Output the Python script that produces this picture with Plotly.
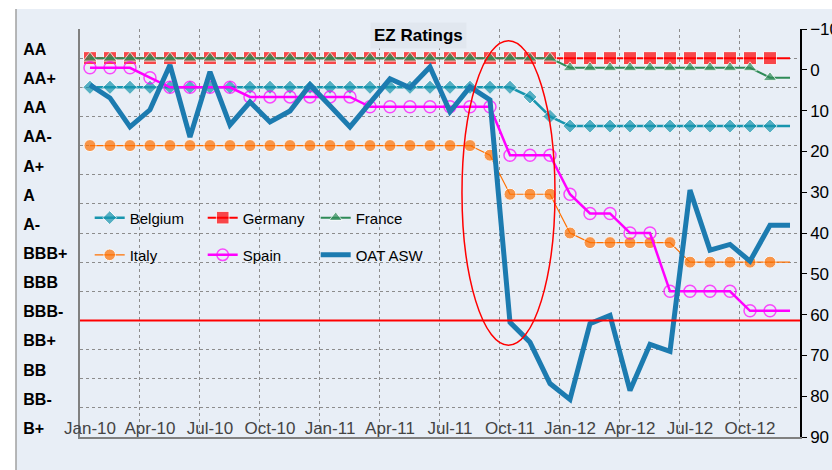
import plotly.graph_objects as go

# months Jan-10 .. Dec-12, plotted by index
months = [f"{m}-{y}" for y in ("10", "11", "12")
          for m in ("Jan", "Feb", "Mar", "Apr", "May", "Jun",
                    "Jul", "Aug", "Sep", "Oct", "Nov", "Dec")]
month_idx = list(range(len(months)))
tick_months = ["Jan-10", "Apr-10", "Jul-10", "Oct-10", "Jan-11", "Apr-11",
               "Jul-11", "Oct-11", "Jan-12", "Apr-12", "Jul-12", "Oct-12"]

# rating scale (average notch across agencies, 1 = AAA)
rating_labels = ["AA", "AA+", "AA", "AA-", "A+", "A", "A-", "BBB+", "BBB",
                 "BBB-", "BB+", "BB", "BB-", "B+"]
rating_notches = [1, 2, 3, 4, 5, 6, 7, 8, 9, 10, 11, 12, 13, 14]
ig_cutoff = 10  # BBB-

belgium = [2, 2, 2, 2, 2, 2, 2, 2, 2, 2, 2, 2, 2, 2, 2, 2, 2, 2, 2, 2, 2, 2,
           2.33, 3, 3.33, 3.33, 3.33, 3.33, 3.33, 3.33, 3.33, 3.33, 3.33, 3.33, 3.33, 3.33]
germany = [1, 1, 1, 1, 1, 1, 1, 1, 1, 1, 1, 1, 1, 1, 1, 1, 1, 1,
           1, 1, 1, 1, 1, 1, 1, 1, 1, 1, 1, 1, 1, 1, 1, 1, 1, 1]
france = [1, 1, 1, 1, 1, 1, 1, 1, 1, 1, 1, 1, 1, 1, 1, 1, 1, 1, 1, 1, 1, 1, 1, 1,
          1.33, 1.33, 1.33, 1.33, 1.33, 1.33, 1.33, 1.33, 1.33, 1.33, 1.67, 1.67]
italy = [4, 4, 4, 4, 4, 4, 4, 4, 4, 4, 4, 4, 4, 4, 4, 4, 4, 4, 4, 4,
         4.33, 5.67, 5.67, 5.67, 7, 7.33, 7.33, 7.33, 7.33, 7.33, 8, 8, 8, 8, 8, 8]
spain = [1.33, 1.33, 1.33, 1.67, 2, 2, 2, 2, 2.33, 2.33, 2.33, 2.33, 2.33, 2.33,
         2.67, 2.67, 2.67, 2.67, 2.67, 2.67, 2.67, 4.33, 4.33, 4.33, 5.67,
         6.33, 6.33, 7, 7, 9, 9, 9, 9, 9.67, 9.67, 9.67]
# OAT asset swap spread, bp (right axis)
oat_asw = [3.7, 6.9, 14.0, 9.8, -1.2, 16.5, 0.5, 13.5, 7.9, 12.8, 10.1, 3.7,
           8.8, 14.0, 8.1, 2.2, 4.4, -0.7, 10.3, 4.2, 7.4, 61.9, 66.8, 76.9,
           80.8, 62.2, 60.2, 78.6, 67.3, 69.0, 29.5, 44.2, 42.8, 46.9, 38.1, 38.1]

BG = "#E8EEF6"
GRID = "#8C8C8C"
n = len(months)


def sizes(s):
    # no marker on the final month, just the line
    return [s] * (n - 1) + [0]


fig = go.Figure()
fig.add_trace(go.Scatter(x=month_idx, y=belgium, name="Belgium", mode="lines+markers",
                         line=dict(color="#1795AE", width=2.5),
                         marker=dict(symbol="diamond", size=sizes(11), color="#1795AE"),
                         legend="legend"))
fig.add_trace(go.Scatter(x=month_idx, y=germany, name="Germany", mode="lines+markers",
                         line=dict(color="#FF0000", width=2),
                         marker=dict(symbol="square", size=sizes(13), color="#FF0000"),
                         legend="legend"))
fig.add_trace(go.Scatter(x=month_idx, y=france, name="France", mode="lines+markers",
                         line=dict(color="#2E8B57", width=2),
                         marker=dict(symbol="triangle-up", size=sizes(12), color="#2E8B57"),
                         legend="legend"))
fig.add_trace(go.Scatter(x=month_idx, y=italy, name="Italy", mode="lines+markers",
                         line=dict(color="#FF7000", width=1.2),
                         marker=dict(symbol="circle", size=sizes(12), color="#FF7000"),
                         legend="legend2"))
fig.add_trace(go.Scatter(x=month_idx, y=spain, name="Spain", mode="lines+markers",
                         line=dict(color="#FF00FF", width=2.5),
                         marker=dict(symbol="circle-open", size=sizes(12), color="#FF00FF",
                                     line=dict(width=1.5)),
                         legend="legend2"))
fig.add_trace(go.Scatter(x=month_idx, y=oat_asw, name="OAT ASW", mode="lines",
                         line=dict(color="#1C7BB0", width=5),
                         yaxis="y2", legend="legend2"))
# dummy trace so the rating-label axis is drawn
fig.add_trace(go.Scatter(x=[None], y=[None], yaxis="y3", showlegend=False, hoverinfo="skip"))

# investment-grade cut-off and highlight ellipse
fig.add_hline(y=ig_cutoff, line=dict(color="#FF0000", width=2))
fig.add_shape(type="circle", xref="x", yref="y", x0=18.6, x1=23.25, y0=0.4, y1=10.85,
              line=dict(color="#FF0000", width=1.5))

# chart area background with left border
fig.add_shape(type="rect", xref="paper", yref="paper", x0=0, x1=1.2, y0=-0.3, y1=1.049,
              fillcolor=BG, line_width=0, layer="below")
fig.add_shape(type="line", xref="paper", yref="paper", x0=0, x1=0, y0=-0.3, y1=1.049,
              line=dict(color="#A0A0A0", width=1.5), layer="below")

fig.add_annotation(text="<b>EZ Ratings</b>", xref="paper", yref="paper", x=0.513, y=0.983,
                   xanchor="center", yanchor="middle",
                   showarrow=False, font=dict(size=17, color="black"),
                   bgcolor="#E1E7EF", borderpad=3)

fig.update_layout(
    width=832, height=470,
    margin=dict(l=16, r=32, t=29, b=33, autoexpand=False),
    paper_bgcolor="white", plot_bgcolor="rgba(0,0,0,0)",
    font=dict(family="Liberation Sans, Arial", color="black"),
    xaxis=dict(domain=[0.0816, 1], range=[-0.5, n - 0.5],
               tickvals=[months.index(t) for t in tick_months], ticktext=tick_months,
               ticks="", ticklabelposition="inside", ticklabeloverflow="allow",
               tickfont=dict(size=17), automargin=False,
               showgrid=False, zeroline=False,
               showline=True, linecolor="#808080", linewidth=1.5,
               minor=dict(tick0=-0.5, dtick=3, showgrid=True, griddash="dot",
                          gridcolor=GRID, gridwidth=1)),
    yaxis=dict(range=[14, 0], tickvals=list(range(15)), showticklabels=False, ticks="",
               showgrid=True, griddash="dot", gridcolor=GRID, gridwidth=1, zeroline=False,
               showline=True, linecolor="#808080", linewidth=1.5, automargin=False),
    yaxis2=dict(overlaying="y", side="right", range=[90, -10], dtick=10,
                ticks="outside", ticklen=5, tickcolor="black", tickfont=dict(size=17),
                showline=True, linecolor="black", linewidth=1.5, automargin=False,
                ticklabeloverflow="allow", showgrid=False, zeroline=False),
    yaxis3=dict(overlaying="y", anchor="free", position=0.008, side="right",
                range=[14.3, 0.3], tickvals=rating_notches,
                ticktext=[f"<b>{t}</b>" for t in rating_labels],
                ticks="", tickfont=dict(size=16), automargin=False,
                ticklabeloverflow="allow",
                showgrid=False, zeroline=False, showline=False),
    legend=dict(orientation="h", x=0.094, y=0.537, yanchor="middle", xanchor="left",
                bgcolor="rgba(0,0,0,0)", font=dict(size=15), entrywidth=68,
                entrywidthmode="pixels"),
    legend2=dict(orientation="h", x=0.094, y=0.446, yanchor="middle", xanchor="left",
                 bgcolor="rgba(0,0,0,0)", font=dict(size=15), entrywidth=68,
                 entrywidthmode="pixels"),
    showlegend=True,
)

fig.write_html("out.html", config={"displayModeBar": False},
               post_script="document.body.style.margin='0';")
